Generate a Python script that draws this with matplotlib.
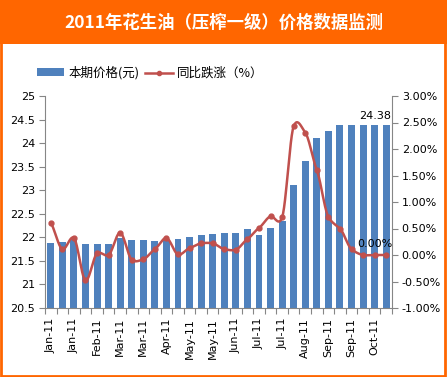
import numpy as np
import matplotlib
matplotlib.use("Agg")
import matplotlib.pyplot as plt
from matplotlib.patches import Rectangle, Patch
from matplotlib.lines import Line2D

plt.rcParams['font.family'] = ['Noto Sans CJK SC', 'DejaVu Sans']

title = "2011年花生油（压榨一级）价格数据监测"
tick_labels = ["Jan-11", "Jan-11", "Feb-11", "Mar-11", "Mar-11", "Apr-11", "May-11",
               "May-11", "Jun-11", "Jul-11", "Jul-11", "Aug-11", "Sep-11", "Sep-11", "Oct-11"]
price = [21.88, 21.90, 21.97, 21.85, 21.85, 21.85, 21.99, 21.95, 21.95, 21.92,
         21.95, 21.97, 22.00, 22.05, 22.07, 22.10, 22.10, 22.17, 22.05, 22.20,
         22.35, 23.11, 23.63, 24.10, 24.25, 24.38, 24.38, 24.38, 24.38, 24.38]
yoy = [0.61, 0.11, 0.32, -0.48, 0.03, 0.00, 0.42, -0.09, -0.08, 0.11,
       0.32, 0.01, 0.13, 0.22, 0.22, 0.11, 0.10, 0.30, 0.51, 0.73,
       0.71, 2.43, 2.31, 1.60, 0.72, 0.50, 0.11, 0.00, 0.00, 0.00]

orange = '#FF6600'
blue = '#4F81BD'
red = '#C0504D'
gray = '#868686'

W, H = 447, 377
fig = plt.figure(figsize=(W / 100, H / 100), dpi=100)
fig.patch.set_facecolor('white')

# title bar and border
fig.add_artist(Rectangle((0, 1 - 44 / H), 1, 44 / H, transform=fig.transFigure,
                         facecolor=orange, edgecolor='none', zorder=0))
fig.add_artist(Rectangle((1 / W, 1 / H), 1 - 3 / W, 1 - 3 / H, transform=fig.transFigure,
                         facecolor='none', edgecolor=orange, linewidth=2, zorder=10))
fig.text(0.5, 1 - 23 / H, title, color='white', fontsize=12.5, fontweight='bold',
         ha='center', va='center')

left, right, top, bottom = 45, 392, 96, 308
ax = fig.add_axes([left / W, 1 - bottom / H, (right - left) / W, (bottom - top) / H])
x = np.arange(len(price))
ax.bar(x, price, width=0.6, color=blue, zorder=2)
ax.set_xlim(-0.5, len(price) - 0.5)
ax.set_ylim(20.5, 25)
ax.set_yticks(np.arange(20.5, 25.01, 0.5))
ax.set_yticklabels([f"{v:g}" for v in np.arange(20.5, 25.01, 0.5)], fontsize=8,
                   family='DejaVu Sans')
ax.set_xticks(np.arange(-0.5, len(price), 1), minor=False)
ax.set_xticklabels([])
ax.set_xticks(np.arange(0, len(price), 2), minor=True)
ax.set_xticklabels(tick_labels, minor=True, rotation=90, fontsize=8, family='DejaVu Sans')
ax.tick_params(axis='x', which='minor', length=0, pad=7)
ax.tick_params(axis='x', which='major', length=4, color=gray, direction='out')
ax.tick_params(axis='y', length=4, color=gray, pad=3)
for s in ['top', 'right']:
    ax.spines[s].set_visible(False)
for s in ['left', 'bottom']:
    ax.spines[s].set_color(gray)

ax.text(28, price[28] + 0.08, f"{price[28]:.2f}", ha='center', va='bottom', fontsize=8,
        family='DejaVu Sans')

ax2 = ax.twinx()
ax2.set_ylim(-1, 3)
yt = np.arange(-1, 3.01, 0.5)
ax2.set_yticks(yt)
ax2.set_yticklabels([f"{v:.2f}%" for v in yt], fontsize=8, family='DejaVu Sans')
ax2.tick_params(axis='y', length=4, color=gray, pad=3)
for s in ['top', 'left', 'bottom']:
    ax2.spines[s].set_visible(False)
ax2.spines['right'].set_color(gray)

# smooth (Hermite) rendering through data points
pts = np.array(yoy, dtype=float)
n = len(pts)
tension = 0.35
m = np.zeros(n)
for i in range(n):
    lo, hi = max(i - 1, 0), min(i + 1, n - 1)
    m[i] = tension * (pts[hi] - pts[lo]) * (2.0 / (hi - lo))
xs, ys = [], []
for i in range(n - 1):
    t = np.linspace(0, 1, 24, endpoint=False)
    h00 = 2 * t ** 3 - 3 * t ** 2 + 1
    h10 = t ** 3 - 2 * t ** 2 + t
    h01 = -2 * t ** 3 + 3 * t ** 2
    h11 = t ** 3 - t ** 2
    y = h00 * pts[i] + h10 * m[i] + h01 * pts[i + 1] + h11 * m[i + 1]
    xs.extend(i + t)
    ys.extend(y)
xs.append(n - 1)
ys.append(pts[-1])
ax2.plot(xs, ys, color=red, linewidth=1.8, zorder=3, solid_capstyle='round')
ax2.plot(x, pts, linestyle='none', marker='o', markersize=3.5, color=red, zorder=4)
ax2.text(28, yoy[28] + 0.12, f"{yoy[28]:.2f}%", ha='center', va='bottom', fontsize=8,
         family='DejaVu Sans')

handles = [Patch(facecolor=blue, edgecolor='none'),
           Line2D([0], [0], color=red, linewidth=1.8, marker='o', markersize=3)]
fig.legend(handles, ["本期价格(元)", "同比跌涨（%）"], loc='center',
           bbox_to_anchor=(150 / W, 1 - 73 / H), ncol=2, frameon=False, fontsize=9,
           handlelength=2.2, handleheight=0.6, handletextpad=0.3, columnspacing=0.5)

fig.savefig("out.png", dpi=100)
